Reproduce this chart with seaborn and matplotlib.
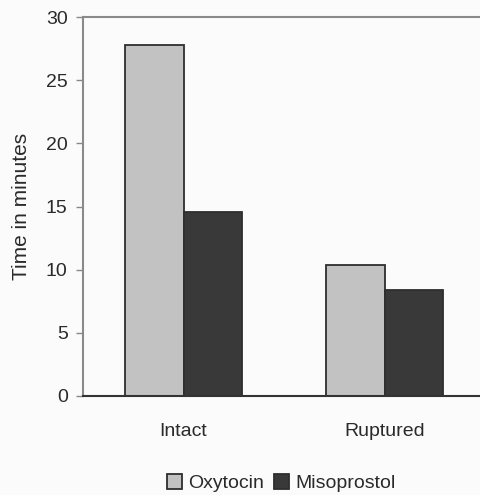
import numpy as np
import pandas as pd
import matplotlib.pyplot as plt
import matplotlib.patches as mpatches
import seaborn as sns

membranes = ["Intact", "Ruptured"]
drugs = ["Oxytocin", "Misoprostol"]
oxytocin_min = [27.8, 10.4]
misoprostol_min = [14.6, 8.4]

palette = {"Oxytocin": "#c2c2c2", "Misoprostol": "#393939"}

df = pd.DataFrame({
    "membranes": membranes * 2,
    "drug": [drugs[0]] * 2 + [drugs[1]] * 2,
    "minutes": oxytocin_min + misoprostol_min,
})

sns.set_style("white")
plt.rcParams["font.family"] = ["Liberation Sans", "DejaVu Sans"]

fig = plt.figure(figsize=(4.8, 4.95), dpi=100)
fig.patch.set_facecolor("#fbfbfb")
ax = fig.add_axes([83 / 480, 99 / 495, 402 / 480, 379 / 495])
ax.set_facecolor("#fbfbfb")

sns.barplot(data=df, x="membranes", y="minutes", hue="drug", order=membranes,
            hue_order=drugs, palette=palette, width=0.58, gap=0,
            edgecolor="#2e2e2e", linewidth=1.3, saturation=1, ax=ax,
            legend=False)

ax.set_xlim(-0.5, 1.5)
ax.set_ylim(0, 30)
ax.set_yticks(np.arange(0, 31, 5))
ax.tick_params(axis="y", left=True, length=5, width=1, color="#888888",
               pad=6, labelsize=14, labelcolor="#2a2a2a")
ax.tick_params(axis="x", bottom=False, pad=16, labelsize=14,
               labelcolor="#2a2a2a")
ax.set_xlabel("")
ax.set_ylabel("Time in minutes", fontsize=15, color="#2a2a2a", labelpad=11)

for side in ["left", "top"]:
    ax.spines[side].set_color("#8a8a8a")
    ax.spines[side].set_linewidth(1.5)
ax.spines["bottom"].set_color("#333333")
ax.spines["bottom"].set_linewidth(1.5)
ax.spines["right"].set_visible(False)

handles = [mpatches.Patch(facecolor=palette[d], edgecolor="#2e2e2e", lw=1.3, label=d)
           for d in drugs]
fig.legend(handles=handles, loc="center", bbox_to_anchor=(281 / 480, 1 - 483 / 495),
           ncol=2, frameon=False, fontsize=14, handlelength=0.8, handleheight=0.8,
           handletextpad=0.3, columnspacing=0.5, labelcolor="#2a2a2a")

fig.savefig("out.png", dpi=100, facecolor=fig.get_facecolor())
